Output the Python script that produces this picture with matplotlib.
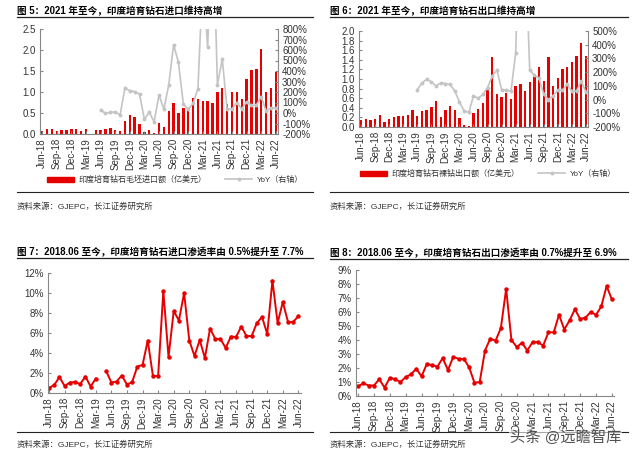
import matplotlib
matplotlib.use('Agg')
import matplotlib.pyplot as plt
import numpy as np
import pandas as pd
from matplotlib.lines import Line2D
from matplotlib.patches import Patch

plt.rcParams['font.family'] = ['Liberation Sans', 'Noto Sans CJK SC']

nan = np.nan

# months Jun-18 .. Jun-22
months = pd.date_range('2018-06-01', '2022-06-01', freq='MS')
month_labels = [m.strftime('%b-%y') for m in months]

# fig 5: rough LGD imports (100m USD) and YoY (%)
import_rough = [0.07, 0.12, 0.13, 0.08, 0.09, 0.10, 0.13, 0.13, 0.08, 0.11,
                nan, 0.09, 0.09, 0.12, 0.14, 0.09, 0.08, 0.32, 0.45, 0.41,
                0.24, 0.04, 0.10, 0.02, 0.26, 0.17, 0.54, 0.73, 0.51, 0.61,
                0.60, 0.86, 0.83, 0.78, 0.79, 0.74, 1.00, 1.09, 0.72, 1.01,
                1.01, 0.84, 1.31, 1.52, 1.54, 2.02, 0.99, 1.09, 1.48]
import_yoy = [nan] * 12 + [29, -3, 6, 10, -19, 236, 213, 204, 178, -60,
                           6, -83, 172, 35, 268, 650, 481, 86, 35, 92,
                           232, 1300, 624, 2000, 268, 513, 35, 38, 99, 38,
                           108, 73, 73, 156, 19, 45, 51]

# fig 6: polished LGD exports (100m USD) and YoY (%)
export_polished = [0.14, 0.16, 0.14, 0.17, 0.26, 0.10, 0.17, 0.20, 0.22, 0.23,
                   0.24, 0.35, 0.23, 0.34, 0.36, 0.41, 0.54, 0.21, 0.35, 0.43,
                   0.36, 0.19, 0.04, 0.02, 0.29, 0.38, 0.49, 0.78, 1.45, 0.68,
                   0.62, 0.71, 0.58, 0.85, 0.89, 0.74, 0.94, 1.05, 1.25, 0.96,
                   1.45, 0.85, 1.02, 1.21, 1.25, 1.36, 1.47, 1.76, 1.47]
export_yoy = [nan] * 12 + [73, 120, 149, 129, 98, 122, 117, 110, 63, -17,
                           -83, -93, 27, 10, 37, 88, 171, 215, 73, 68,
                           61, 337, 1500, 1200, 215, 178, 154, 39, 0, 27,
                           68, 68, 112, 61, 63, 134, 56]

# fig 7 / fig 8: penetration (%)
import_share = [0.5, 0.8, 1.6, 0.7, 1.05, 1.1, 0.9, 1.65, 0.65, 1.45,
                nan, 2.2, 1.05, 1.15, 1.75, 0.85, 1.1, 2.65, 2.8, 5.25,
                1.7, 1.7, 10.2, 3.6, 8.2, 7.25, 10.0, 5.25, 3.7, 5.3,
                3.5, 6.45, 5.4, 5.4, 4.5, 5.65, 5.6, 6.65, 5.7, 5.7,
                7.0, 7.6, 5.9, 11.25, 7.0, 9.1, 7.1, 7.1, 7.7]
export_share = [0.7, 0.9, 0.75, 0.75, 1.2, 0.6, 1.3, 1.2, 1.0, 1.35,
                1.55, 1.95, 1.4, 2.3, 2.2, 2.1, 2.7, 1.85, 2.8, 2.65,
                2.65, 2.05, 0.95, 1.0, 3.25, 4.1, 3.95, 4.85, 7.65, 4.0,
                3.5, 3.8, 3.25, 3.85, 3.85, 3.6, 4.55, 4.55, 5.8, 4.75,
                5.4, 6.2, 5.5, 5.6, 6.0, 5.8, 6.4, 7.85, 6.9]

titles = ['图 5：2021 年至今，印度培育钻石进口维持高增',
          '图 6：2021 年至今，印度培育钻石出口维持高增',
          '图 7：2018.06 至今，印度培育钻石进口渗透率由 0.5%提升至 7.7%',
          '图 8：2018.06 至今，印度培育钻石出口渗透率由 0.7%提升至 6.9%']
source = '资料来源：GJEPC，长江证券研究所'

RED = '#E60000'
GREY = '#C4C4C4'
TXT = '#333333'
FS = 7

W, H = 640, 457
fig = plt.figure(figsize=(6.4, 4.57), dpi=100)


def box(l, t, r, b):
    return [l / W, 1 - b / H, (r - l) / W, (b - t) / H]


def hline(x0, x1, y, lw=0.9):
    fig.add_artist(Line2D([x0 / W, x1 / W], [1 - y / H] * 2, color='#222222', lw=lw))


def header(x, y, title, x1):
    fig.text(x / W, 1 - y / H, title, fontsize=6.9, weight='bold', va='center', ha='left')
    hline(x, x1, y + 6)


def footer(x, y, x1, ysrc):
    hline(x, x1, y, lw=0.8)
    fig.text(x / W, 1 - ysrc / H, source, fontsize=6, color=TXT, va='center')


def style_x(ax):
    x = np.arange(len(month_labels))
    ax.set_xticks(x[::3])
    ax.set_xticklabels(month_labels[::3], rotation=90, fontsize=FS, color=TXT)
    ax.tick_params(axis='x', direction='in', length=2, color='#888888', pad=3)
    for s in ['top', 'right']:
        ax.spines[s].set_visible(False)
    for s in ['left', 'bottom']:
        ax.spines[s].set_color('#888888')
        ax.spines[s].set_linewidth(0.8)
    ax.tick_params(axis='y', direction='in', length=2, color='#888888', labelsize=FS,
                   labelcolor=TXT, pad=3)


def bar_panel(rect, values, yoy, ymax, ystep, yfmt, rlim, rstep, label, leg_xy):
    ax = fig.add_axes(rect)
    x = np.arange(len(values))
    ax.bar(x, values, width=0.5, color=RED)
    ax.set_xlim(-0.45, len(values) - 0.55)
    ax.set_ylim(0, ymax)
    ax.set_yticks(np.arange(0, ymax + 1e-9, ystep))
    ax.yaxis.set_major_formatter(lambda v, p: yfmt % v)
    style_x(ax)
    ax2 = ax.twinx()
    ax2.plot(x, yoy, color=GREY, lw=1.2, marker='o', ms=1.8)
    ax2.set_ylim(*rlim)
    ax2.set_yticks(np.arange(rlim[0], rlim[1] + 1, rstep))
    ax2.yaxis.set_major_formatter(lambda v, p: f'{v:.0f}%')
    ax2.spines['top'].set_visible(False)
    ax2.spines['left'].set_visible(False)
    ax2.spines['bottom'].set_visible(False)
    ax2.spines['right'].set_color('#888888')
    ax2.spines['right'].set_linewidth(0.8)
    ax2.tick_params(axis='y', direction='in', length=2, color='#888888', labelsize=FS,
                    labelcolor=TXT, pad=3)
    handles = [Patch(color=RED, label=label),
               Line2D([], [], color=GREY, lw=1.2, marker='o', ms=1.8, label='YoY（右轴）')]
    fig.legend(handles=handles, loc='center left', bbox_to_anchor=(leg_xy[0] / W, 1 - leg_xy[1] / H),
               ncol=2, frameon=False, fontsize=5.8, handlelength=3.4, handleheight=0.6,
               columnspacing=2.3, handletextpad=0.5, borderaxespad=0, borderpad=0,
               labelcolor=TXT)


def line_panel(rect, values, ymax, ystep, xlim):
    ax = fig.add_axes(rect)
    x = np.arange(len(values))
    ax.plot(x, values, color=RED, lw=1.4, marker='o', ms=2.2)
    ax.set_xlim(*xlim)
    ax.set_ylim(0, ymax)
    ax.set_yticks(np.arange(0, ymax + 1e-9, ystep))
    ax.yaxis.set_major_formatter(lambda v, p: f'{v:.0f}%')
    style_x(ax)


# fig 5
header(17, 11, titles[0], 313)
bar_panel(box(40, 29, 278, 134), import_rough, import_yoy, 2.5, 0.5, '%.1f',
          (-200, 800), 100, '印度培育钻石毛坯进口额（亿美元）', (47, 180))
footer(17, 192, 313, 207)

# fig 6
header(330, 11, titles[1], 628)
bar_panel(box(359, 31, 588, 127), export_polished, export_yoy, 2.0, 0.2, '%.1f',
          (-200, 500), 100, '印度培育钻石裸钻出口额（亿美元）', (360, 174))
footer(330, 192, 628, 207)

# fig 7
header(17, 252, titles[2], 313)
line_panel(box(48, 273, 301, 393), import_share, 12, 2, (-0.2, 48.5))
footer(17, 432, 313, 445)

# fig 8
header(330, 253, titles[3], 628)
line_panel(box(356, 270, 614, 396), export_share, 9, 1, (-0.4, 48.4))
footer(330, 432, 628, 445)

fig.text(510 / W, 1 - 437 / H, '头条 @远瞻智库', fontsize=11, color='#505050', va='center',
         bbox=dict(facecolor='white', edgecolor='none', pad=0.5, alpha=0.6))

fig.savefig('out.png', dpi=100)
